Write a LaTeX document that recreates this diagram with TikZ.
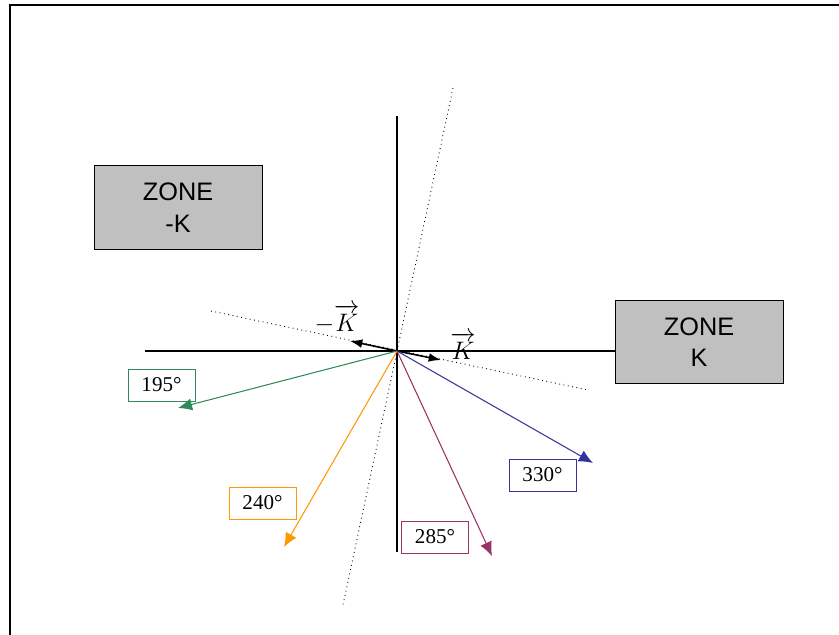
\documentclass[tikz,border=0pt]{standalone}
\usepackage{amsmath}
\usepackage[no-math]{fontspec}
\setmainfont{Liberation Serif}
\newfontfamily\zonefont{Liberation Sans}
\usetikzlibrary{arrows.meta}
\definecolor{zonegray}{RGB}{192,192,192}
\definecolor{dirgreen}{RGB}{46,139,87}
\definecolor{dirorange}{RGB}{255,153,0}
\definecolor{dirplum}{RGB}{153,51,102}
\definecolor{dirblue}{RGB}{51,51,153}

\begin{document}
\begin{tikzpicture}[x=0.02cm, y=-0.02cm,
    zone/.style={draw=black, fill=zonegray, minimum width=3.36cm,
        minimum height=1.67cm, align=center, font=\zonefont\Large},
    angle/.style={draw=#1, minimum width=1.34cm, minimum height=0.64cm,
        inner sep=0pt, font=\large},
    axis/.style={black, line width=0.6pt},
    guide/.style={black, line width=0.5pt, dotted},
    vec/.style={black, line width=0.9pt, -{Latex[length=7pt,width=5pt]}},
    dir/.style={#1, line width=0.6pt, -{Latex[length=8pt,width=7pt]}}
]
    \useasboundingbox (0,0) rectangle (839,635);
    % frame
    \draw[line width=1pt] (10,635) -- (10,5) -- (839,5);

    \coordinate (o) at (397,351);
    \node[zone] (zm) at (178,207.5) {ZONE\\-K};
    \node[zone] (zp) at (699,342) {ZONE\\K};

    % axes
    \coordinate (xl) at (145,351);
    \coordinate (yt) at (397,116);
    \coordinate (yb) at (397,552);
    \draw[axis] (xl) -- (zp.west |- o);
    \draw[axis] (yt) -- (yb);

    % dotted guides
    \coordinate (g1) at (211,311);
    \coordinate (g2) at (588,390);
    \coordinate (g3) at (453,88);
    \coordinate (g4) at (343,605);
    \draw[guide] (g1) -- (g2);
    \draw[guide] (g3) -- (g4);

    % K vectors
    \coordinate (kp) at (441,360);
    \coordinate (km) at (350,341);
    \draw[vec] (o) -- (kp);
    \draw[vec] (o) -- (km);
    \node[font=\Large] (lkp) at (463,346) {$\overrightarrow{K}$};
    \node[font=\Large] (lkm) at (337,319) {$-\overrightarrow{K}$};

    % directions
    \coordinate (d195) at (178,408);
    \coordinate (d240) at (284,547);
    \coordinate (d285) at (492,556);
    \coordinate (d330) at (593,463);
    \draw[dir=dirgreen] (o) -- (d195);
    \draw[dir=dirorange] (o) -- (d240);
    \draw[dir=dirplum] (o) -- (d285);
    \draw[dir=dirblue] (o) -- (d330);
    \node[angle=dirgreen] (a195) at (161.5,385) {195°};
    \node[angle=dirorange] (a240) at (262.5,503) {240°};
    \node[angle=dirplum] (a285) at (435,537) {285°};
    \node[angle=dirblue] (a330) at (542.5,475) {330°};
\end{tikzpicture}
\end{document}
